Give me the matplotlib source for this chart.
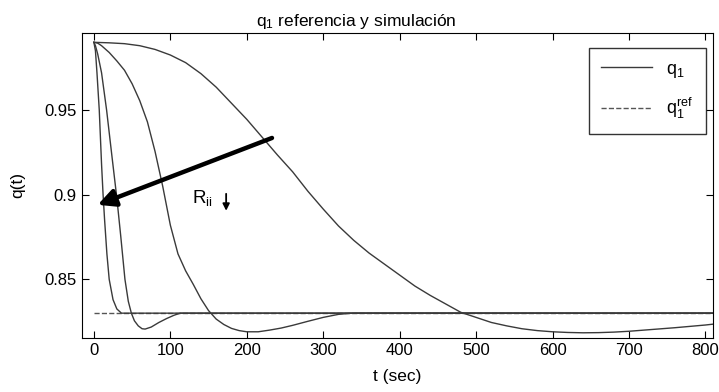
import matplotlib
matplotlib.use("Agg")
import matplotlib.pyplot as plt

plt.rcParams['font.family'] = ['Liberation Sans', 'DejaVu Sans']
plt.rcParams['mathtext.fontset'] = 'custom'
plt.rcParams['mathtext.rm'] = 'Liberation Sans'
plt.rcParams['mathtext.it'] = 'Liberation Sans'
plt.rcParams['mathtext.default'] = 'regular'

# respuestas de q1 para distintos R_ii (t en s, q1)
t1 = [0, 2, 4, 7, 10, 12, 14, 17, 20, 25, 30, 36, 45, 810]
q1a = [0.99, 0.985, 0.972, 0.95, 0.918, 0.90, 0.885, 0.865, 0.85, 0.838, 0.8325, 0.830, 0.830, 0.830]

t2 = [0, 2, 5, 10, 16.6, 23, 30, 35, 40.6, 45, 49, 53, 58, 63, 67, 75, 85, 95, 105, 113, 810]
q1b = [0.99, 0.988, 0.983, 0.972, 0.95, 0.925, 0.898, 0.876, 0.85, 0.837, 0.83, 0.8255, 0.8225, 0.8208, 0.8206,
       0.8218, 0.8245, 0.8268, 0.8288, 0.83, 0.83]

t3 = [0, 5, 10, 20, 30, 40, 50, 60, 70, 80, 90, 100, 110, 120, 130, 140, 150, 160, 170, 180, 190, 200, 215,
      230, 245, 260, 280, 300, 320, 335, 345, 810]
q1c = [0.99, 0.9895, 0.988, 0.984, 0.979, 0.9735, 0.9655, 0.9555, 0.943, 0.9255, 0.905, 0.882, 0.865, 0.855,
       0.847, 0.8385, 0.8315, 0.8265, 0.8233, 0.821, 0.8197, 0.819, 0.819, 0.82, 0.8212, 0.8228, 0.8252, 0.8275,
       0.8293, 0.8299, 0.83, 0.83]

t4 = [0, 20, 40, 60, 80, 100, 120, 140, 160, 180, 200, 220, 240, 260, 280, 300, 320, 340, 360, 380, 400,
      420, 440, 460, 480, 500, 520, 540, 560, 580, 600, 620, 640, 660, 680, 700, 720, 740, 760, 780, 800, 810]
q1d = [0.99, 0.9897, 0.9892, 0.988, 0.9858, 0.9825, 0.978, 0.9715, 0.9635, 0.954, 0.9445, 0.934, 0.9235,
       0.9135, 0.902, 0.8915, 0.8815, 0.873, 0.8655, 0.859, 0.8525, 0.846, 0.8405, 0.8355, 0.8305, 0.8275,
       0.8245, 0.8225, 0.8208, 0.8197, 0.819, 0.8186, 0.8184, 0.8185, 0.8188, 0.8193, 0.82, 0.8207, 0.8214,
       0.8222, 0.823, 0.8235]

t_ref = [0, 810]
q_ref = [0.83, 0.83]

fig = plt.figure(figsize=(7.19, 3.92), dpi=100)
ax = fig.add_axes([0.1136, 0.1385, 0.8781, 0.7773])

lc = '#3a3a3a'
ax.plot(t1, q1a, color=lc, lw=1.0, label='$q_1$')
ax.plot(t_ref, q_ref, '--', color='#555555', lw=1.0, label='$q_1^{ref}$', zorder=1)
ax.plot(t2, q1b, color=lc, lw=1.0)
ax.plot(t3, q1c, color=lc, lw=1.0)
ax.plot(t4, q1d, color=lc, lw=1.0)

ax.set_xlim(-16, 810)
ax.set_ylim(0.8155, 0.9955)
ax.set_xticks(range(0, 801, 100))
ax.set_yticks([0.85, 0.9, 0.95])
ax.set_yticklabels(['0.85', '0.9', '0.95'])
ax.tick_params(direction='in', top=True, right=True, labelsize=12, length=5)

ax.set_title('$q_1$ referencia y simulación', fontsize=12.5, pad=5, x=0.4345)
ax.set_xlabel('t (sec)', fontsize=12.5, labelpad=8)
ax.set_ylabel('q(t)', fontsize=12.5, labelpad=14)

# flecha de tendencia al disminuir R_ii
ax.annotate('', xy=(5, 0.894), xytext=(233, 0.9335),
            arrowprops=dict(arrowstyle='-|>', lw=3.2, color='k', mutation_scale=26,
                            shrinkA=0, shrinkB=0))
ax.text(128, 0.898, '$R_{ii}$', fontsize=13.5, ha='left', va='center')
ax.annotate('', xy=(173, 0.8905), xytext=(173, 0.9005),
            arrowprops=dict(arrowstyle='-|>', lw=1.3, color='k', mutation_scale=10,
                            shrinkA=0, shrinkB=0))

leg = ax.legend(loc='upper right', fontsize=13, fancybox=False, edgecolor='k',
                handlelength=2.8, borderpad=0.7, labelspacing=0.9, borderaxespad=0,
                bbox_to_anchor=(0.989, 0.951))
leg.get_frame().set_linewidth(1.0)

fig.savefig('out.png', dpi=100)
